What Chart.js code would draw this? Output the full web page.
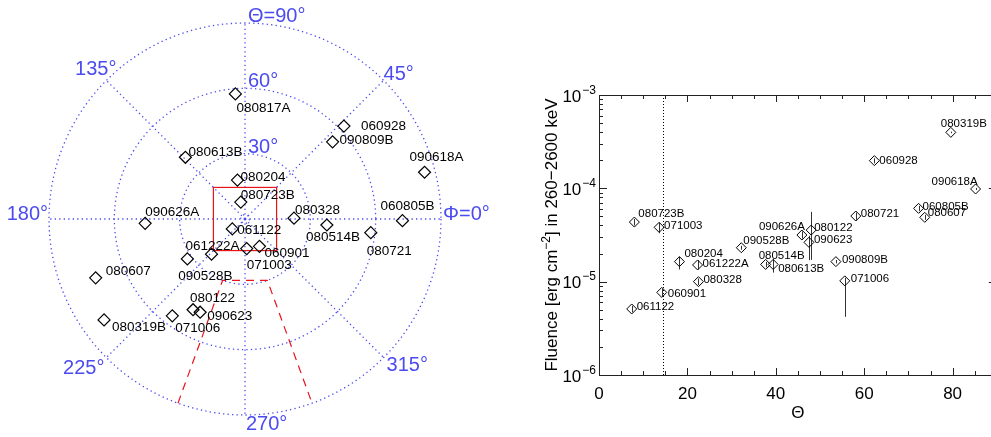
<!DOCTYPE html>
<html>
<head>
<meta charset="utf-8">
<script src="https://cdn.jsdelivr.net/npm/chart.js@4.4.0/dist/chart.umd.min.js"></script>
<style>
  html, body { margin: 0; padding: 0; background: #fff; overflow: hidden; width: 991px; height: 437px; }
  #polarBox { position: absolute; left: 0; top: 0; }
  #fluBox { position: absolute; left: 491px; top: 0; }
</style>
</head>
<body>
<div id="polarBox"><canvas id="polarChart" width="491" height="437"></canvas></div>
<div id="fluBox"><canvas id="fluChart" width="520" height="437"></canvas></div>
<script>
// GRB positions (theta, phi in degrees) and fluence in 260-2600 keV
const grbNames = ['080817A', '060928', '090809B', '080613B', '090618A', '080204', '080723B', '080328',
  '060805B', '090626A', '080514B', '080721', '061122', '061222A', '071003', '060901', '090528B',
  '080607', '080122', '090623', '071006', '080319B'];
const theta = [57.6, 62.3, 53.6, 39.4, 85.2, 18.2, 8.0, 22.5, 72.3, 45.9, 37.7, 58.1, 7.4, 22.3,
  13.6, 14.2, 32.2, 73.7, 48.0, 47.5, 55.6, 79.6];
const phi = [94.4, 43.2, 41.4, 134, 14.6, 101, 104, 1, 359.4, 182.5, 355.8, 353.8, 218, 226.4,
  273.3, 297.9, 214.7, 201.5, 240.2, 244.3, 233.1, 215.6];
const fluence = [null, 1.98e-4, 1.64e-5, 1.53e-5, 9.84e-5, 1.64e-5, 4.35e-5, 1.0e-5, 6.1e-5, 3.16e-5,
  1.53e-5, 5.05e-5, 5.1e-6, 1.51e-5, 3.82e-5, 7.67e-6, 2.31e-5, 4.89e-5, 3.57e-5, 2.64e-5, 1.02e-5, 3.98e-4];
const fluLow = [null, 1.85e-4, 1.57e-5, 1.25e-5, 9.6e-5, 1.35e-5, 4.0e-5, 0.92e-5, 5.7e-5, 2.9e-5,
  1.43e-5, 4.6e-5, 4.7e-6, 1.35e-5, 3.3e-5, 7.0e-6, 2.2e-5, 4.6e-5, 1.71e-5, 1.7e-5, 4.2e-6, 3.9e-4];
const fluHigh = [null, 2.1e-4, 1.71e-5, 1.75e-5, 1.01e-4, 1.85e-5, 4.7e-5, 1.08e-5, 6.5e-5, 3.45e-5,
  1.63e-5, 5.5e-5, 5.5e-6, 1.7e-5, 4.3e-5, 8.4e-6, 2.42e-5, 5.2e-5, 5.6e-5, 3.1e-5, 1.1e-5, 4.05e-4];

const thetaRings = [2, 30, 60, 90];
const phiSpokes = [0, 45, 90, 135, 180, 225, 270, 315];
const fovHalf = 14.5;
const wedgePhi = [250, 290];
const wedgeTheta = [30, 90];
const xTicks = [0, 20, 40, 60, 80];
const yExponents = [-6, -5, -4, -3];

const BLUE = '#4b4bf0';
const FONT = "'Liberation Sans', Arial, Helvetica, sans-serif";
const deg = Math.PI / 180;

// label offsets in pixels: [dx of left edge, dy of text middle]
const polarLabelOff = {
  '080817A': [1, 13], '060928': [17, -1], '090809B': [7, -3], '080613B': [3, -6], '090618A': [-15, -16],
  '080204': [3, -4], '080723B': [0, -8], '080328': [1, -9], '060805B': [-22, -16], '090626A': [0, -12],
  '080514B': [-21, 11], '080721': [-4, 17], '061122': [5, 0], '061222A': [-26, -9], '071003': [0, 16],
  '060901': [5, 6], '090528B': [-9, 16], '080607': [10, -8], '080122': [-3, -13], '090623': [7, 3],
  '071006': [3, 11], '080319B': [8, 6]
};
const fluLabelOff = {
  '080319B': [-10, -9], '060928': [5, -1], '090618A': [-44, -8], '060805B': [4, -2], '080607': [3, -5],
  '080721': [5, -3], '090626A': [-43, -9], '080122': [3, -3], '090623': [5, -3], '090528B': [2, -8],
  '080514B': [-7, -10], '080613B': [5, 3], '090809B': [6, -3], '071006': [6, -3], '080204': [5, -9],
  '061222A': [5, -2], '080328': [5, -3], '060901': [6, 0], '061122': [5, -3], '080723B': [4, -9],
  '071003': [5, -2]
};

function polarPx(chart, t, p) {
  const xs = chart.scales.x, ys = chart.scales.y;
  return { x: xs.getPixelForValue(t * Math.cos(p * deg)), y: ys.getPixelForValue(t * Math.sin(p * deg)) };
}

const polarDeco = {
  id: 'polarDeco',
  beforeDatasetsDraw(chart) {
    const ctx = chart.ctx, xs = chart.scales.x, ys = chart.scales.y;
    const o = polarPx(chart, 0, 0);
    ctx.save();
    ctx.strokeStyle = BLUE;
    ctx.lineWidth = 1.3;
    ctx.setLineDash([1.3, 3.2]);
    thetaRings.forEach(t => {
      const r = xs.getPixelForValue(t) - xs.getPixelForValue(0);
      ctx.beginPath();
      ctx.arc(o.x, o.y, r, 0, 2 * Math.PI);
      ctx.stroke();
    });
    phiSpokes.forEach(p => {
      const e = polarPx(chart, 90, p);
      ctx.beginPath();
      ctx.moveTo(o.x, o.y);
      ctx.lineTo(e.x, e.y);
      ctx.stroke();
    });
    // field of view square
    ctx.setLineDash([]);
    ctx.strokeStyle = '#e8141a';
    ctx.lineWidth = 1.2;
    const x0 = xs.getPixelForValue(-fovHalf), x1 = xs.getPixelForValue(fovHalf);
    const y0 = ys.getPixelForValue(fovHalf), y1 = ys.getPixelForValue(-fovHalf);
    ctx.strokeRect(x0, y0, x1 - x0, y1 - y0);
    // dashed wedge
    ctx.setLineDash([8, 6]);
    const a1 = polarPx(chart, wedgeTheta[1], wedgePhi[0]);
    const a0 = polarPx(chart, wedgeTheta[0], wedgePhi[0]);
    const b0 = polarPx(chart, wedgeTheta[0], wedgePhi[1]);
    const b1 = polarPx(chart, wedgeTheta[1], wedgePhi[1]);
    ctx.beginPath();
    ctx.moveTo(a1.x, a1.y);
    ctx.lineTo(a0.x, a0.y);
    ctx.lineTo(b0.x, b0.y);
    ctx.lineTo(b1.x, b1.y);
    ctx.stroke();
    ctx.restore();
  },
  afterDatasetsDraw(chart) {
    const ctx = chart.ctx;
    ctx.save();
    // blue angle labels
    ctx.fillStyle = BLUE;
    ctx.font = '20px ' + FONT;
    const angTexts = [
      ['Θ=90°', 90, 90, 3, -1, 'left'], ['60°', 60, 90, 3, -1, 'left'], ['30°', 30, 90, 3, -1, 'left'],
      ['Φ=0°', 90, 0, 2, 1, 'left'], ['45°', 90, 45, 0, 0, 'left'], ['135°', 90, 135, 10, -5, 'right'],
      ['180°', 90, 180, -1, 1, 'right'], ['225°', 90, 225, -2, 16, 'right'], ['315°', 90, 315, 3, 13, 'left'],
      ['270°', 90, 270, 1, 15, 'left']
    ];
    angTexts.forEach(([txt, t, p, dx, dy, al]) => {
      const q = polarPx(chart, t, p);
      ctx.textAlign = al;
      ctx.fillText(txt, q.x + dx, q.y + dy);
    });
    // GRB names
    ctx.fillStyle = '#000';
    ctx.font = '13.5px ' + FONT;
    ctx.textAlign = 'left';
    grbNames.forEach((n, i) => {
      const q = polarPx(chart, theta[i], phi[i]);
      const off = polarLabelOff[n];
      ctx.fillText(n, q.x + off[0], q.y + off[1] + 4.9);
    });
    ctx.restore();
  }
};

const PXDEG = 196 / 90;
const CX = 245, CY = 219;

new Chart(document.getElementById('polarChart'), {
  type: 'scatter',
  data: {
    datasets: [{
      data: theta.map((t, i) => ({ x: t * Math.cos(phi[i] * deg), y: t * Math.sin(phi[i] * deg) })),
      pointStyle: 'rectRot',
      pointRadius: 6,
      borderColor: '#000',
      backgroundColor: 'rgba(0,0,0,0)',
      borderWidth: 1.2
    }]
  },
  options: {
    responsive: false,
    animation: false,
    devicePixelRatio: 1,
    events: [],
    layout: { padding: 0, autoPadding: false },
    plugins: { legend: { display: false }, tooltip: { enabled: false } },
    scales: {
      x: { type: 'linear', display: false, min: -CX / PXDEG, max: (491 - CX) / PXDEG },
      y: { type: 'linear', display: false, min: -(437 - CY) / PXDEG, max: CY / PXDEG }
    }
  },
  plugins: [polarDeco]
});

// fluence vs theta
const fluIdx = grbNames.map((n, i) => i).filter(i => fluence[i] !== null);

const fluDeco = {
  id: 'fluDeco',
  beforeDatasetsDraw(chart) {
    const { ctx, chartArea: a, scales: { x, y } } = chart;
    ctx.save();
    ctx.strokeStyle = '#000';
    ctx.lineWidth = 1;
    ctx.setLineDash([1, 2]);
    const fx = Math.round(x.getPixelForValue(fovHalf)) + 0.5;
    ctx.beginPath();
    ctx.moveTo(fx, a.top);
    ctx.lineTo(fx, a.bottom);
    ctx.stroke();
    ctx.setLineDash([]);
    ctx.strokeStyle = '#333';
    fluIdx.forEach(i => {
      const px = Math.round(x.getPixelForValue(theta[i])) + 0.5;
      ctx.beginPath();
      ctx.moveTo(px, y.getPixelForValue(fluLow[i]));
      ctx.lineTo(px, y.getPixelForValue(fluHigh[i]));
      ctx.stroke();
    });
    ctx.restore();
  },
  afterDraw(chart) {
    const { ctx, chartArea: a, scales: { x, y } } = chart;
    ctx.save();
    ctx.strokeStyle = '#222';
    ctx.lineWidth = 1;
    ctx.strokeRect(Math.round(a.left) + 0.5, Math.round(a.top) + 0.5,
      Math.round(a.right - a.left), Math.round(a.bottom - a.top));
    ctx.beginPath();
    for (let v = 0; v <= 90; v += 5) {
      const px = Math.round(x.getPixelForValue(v)) + 0.5;
      const len = v % 20 === 0 ? 7 : 4;
      ctx.moveTo(px, a.bottom); ctx.lineTo(px, a.bottom - len);
      ctx.moveTo(px, a.top); ctx.lineTo(px, a.top + len);
    }
    yExponents.forEach(e => {
      for (let k = 1; k <= 9; k++) {
        if (k > 1 && e === yExponents[yExponents.length - 1]) break;
        const py = Math.round(y.getPixelForValue(k * Math.pow(10, e))) + 0.5;
        const len = k === 1 ? 8 : 4;
        ctx.moveTo(a.left, py); ctx.lineTo(a.left + len, py);
        ctx.moveTo(a.right, py); ctx.lineTo(a.right - len, py);
      }
    });
    ctx.stroke();

    ctx.fillStyle = '#000';
    ctx.font = '17px ' + FONT;
    ctx.textAlign = 'center';
    xTicks.forEach(v => ctx.fillText(String(v), x.getPixelForValue(v), a.bottom + 24));
    ctx.fillText('Θ', (a.left + a.right) / 2, a.bottom + 43);

    yExponents.forEach(e => {
      const py = y.getPixelForValue(Math.pow(10, e));
      ctx.font = '12px ' + FONT;
      const sup = '−' + Math.abs(e);
      const sw = ctx.measureText(sup).width;
      ctx.textAlign = 'left';
      ctx.fillText(sup, a.left - 3 - sw, py - 1.5);
      ctx.font = '17px ' + FONT;
      ctx.textAlign = 'right';
      ctx.fillText('10', a.left - 4 - sw, py + 6.5);
    });

    // rotated axis title
    ctx.save();
    ctx.translate(a.left - 48, (a.top + a.bottom) / 2);
    ctx.rotate(-Math.PI / 2);
    const p1 = 'Fluence [erg cm', p2 = '−2', p3 = '] in 260−2600 keV';
    ctx.font = '17px ' + FONT;
    const w1 = ctx.measureText(p1).width, w3 = ctx.measureText(p3).width;
    ctx.font = '12px ' + FONT;
    const w2 = ctx.measureText(p2).width;
    let sx = -(w1 + w2 + w3) / 2;
    ctx.textAlign = 'left';
    ctx.font = '17px ' + FONT;
    ctx.fillText(p1, sx, 6);
    ctx.font = '12px ' + FONT;
    ctx.fillText(p2, sx + w1, -1.5);
    ctx.font = '17px ' + FONT;
    ctx.fillText(p3, sx + w1 + w2, 6);
    ctx.restore();

    // point names
    ctx.font = '11.5px ' + FONT;
    ctx.textAlign = 'left';
    fluIdx.forEach(i => {
      const off = fluLabelOff[grbNames[i]];
      ctx.fillText(grbNames[i], x.getPixelForValue(theta[i]) + off[0], y.getPixelForValue(fluence[i]) + off[1] + 4.1);
    });
    ctx.restore();
  }
};

new Chart(document.getElementById('fluChart'), {
  type: 'scatter',
  data: {
    datasets: [{
      data: fluIdx.map(i => ({ x: theta[i], y: fluence[i] })),
      pointStyle: 'rectRot',
      pointRadius: 5,
      borderColor: '#000',
      backgroundColor: 'rgba(0,0,0,0)',
      borderWidth: 1
    }]
  },
  options: {
    responsive: false,
    animation: false,
    devicePixelRatio: 1,
    events: [],
    layout: { padding: { left: 108, top: 95, right: 14.2, bottom: 62 }, autoPadding: false },
    plugins: { legend: { display: false }, tooltip: { enabled: false } },
    scales: {
      x: { type: 'linear', display: false, min: 0, max: 90 },
      y: { type: 'logarithmic', display: false, min: 1e-6, max: 1e-3 }
    }
  },
  plugins: [fluDeco]
});
</script>
</body>
</html>
